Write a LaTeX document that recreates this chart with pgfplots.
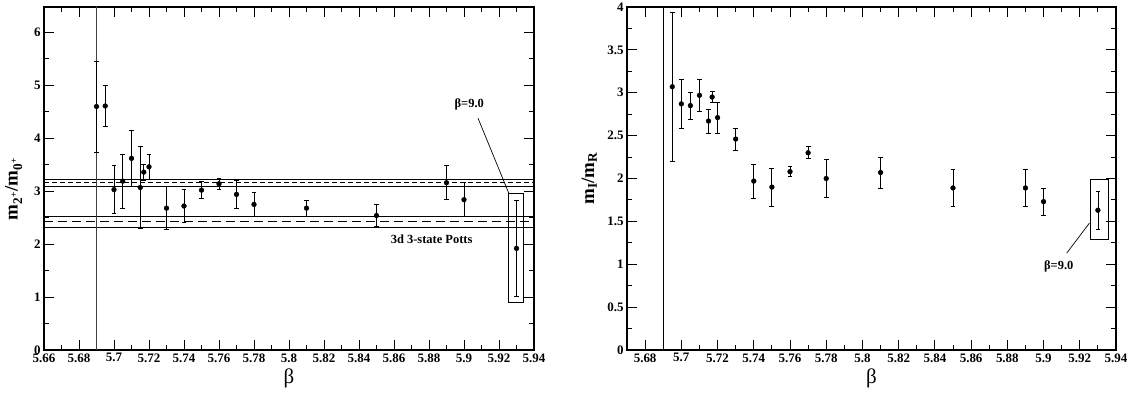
\documentclass[border=0pt]{standalone}
\usepackage{fontspec}
\setmainfont{Liberation Serif}
\usepackage{pgfplots}
\pgfplotsset{compat=1.18}
\usepackage{pgfplotstable}

\pgfplotstableread{
x y e
5.690 4.60 0.86
5.695 4.61 0.38
5.700 3.03 0.45
5.705 3.19 0.51
5.710 3.62 0.52
5.715 3.07 0.77
5.717 3.36 0.15
5.720 3.46 0.24
5.730 2.68 0.41
5.740 2.72 0.31
5.750 3.02 0.16
5.760 3.14 0.10
5.770 2.94 0.27
5.780 2.75 0.23
5.810 2.68 0.15
5.850 2.54 0.21
5.890 3.16 0.32
5.900 2.84 0.32
5.930 1.92 0.90
}\leftdata

\pgfplotstableread{
x y e
5.695 3.07 0.87
5.700 2.87 0.28
5.705 2.85 0.155
5.710 2.97 0.19
5.715 2.67 0.14
5.717 2.95 0.065
5.720 2.71 0.18
5.730 2.46 0.13
5.740 1.97 0.20
5.750 1.90 0.22
5.760 2.08 0.06
5.770 2.30 0.07
5.780 2.00 0.225
5.810 2.07 0.18
5.850 1.89 0.215
5.890 1.89 0.215
5.900 1.73 0.155
5.930 1.63 0.22
}\rightdata

\pgfplotsset{
  gracestyle/.style={
    scale only axis,
    axis line style={line width=1.3bp},
    tick align=inside,
    major tick length=10bp,
    minor tick length=5bp,
    tick style={black, line width=1bp},
    xtick pos=both, ytick pos=both,
    minor x tick num=1,
    minor y tick num=1,
    /pgf/number format/assume math mode=true,
    ticklabel style={font=\fontsize{13}{15}\selectfont\bfseries},
    x tick label style={/pgf/number format/.cd, fixed, precision=2},
    xticklabel={\bfseries\pgfmathprintnumber{\tick}},
    yticklabel={\bfseries\pgfmathprintnumber{\tick}},
    xlabel={\fontsize{21}{23}\selectfont β},
    xlabel style={at={(axis description cs:0.5,-0.082)}, anchor=center},
  },
  pts/.style={black, only marks, mark=*, mark size=2.4bp,
    error bars/.cd, y dir=both, y explicit,
    error bar style={line width=0.8bp, black},
    error mark options={rotate=90, mark size=2.4bp, line width=0.8bp, black}},
}

\begin{document}
\begin{tikzpicture}
\path[use as bounding box] (0,0) rectangle (1136bp,394bp);

\begin{axis}[gracestyle,
  at={(44bp,44bp)}, anchor=south west,
  width=490bp, height=343bp,
  xmin=5.66, xmax=5.94, ymin=0, ymax=6.48,
  xtick={5.66,5.68,...,5.94},
  ytick={0,1,...,6},
  ylabel={\fontsize{19}{22}\selectfont\bfseries m\textsubscript{2\textsuperscript{+}}/m\textsubscript{0\textsuperscript{+}}},
  ylabel style={at={(axis description cs:-0.062,0.47)}, anchor=center, rotate=0},
]
\addplot[black, line width=0.7bp] coordinates {(5.66,3.23) (5.94,3.23)};
\addplot[black, line width=0.7bp] coordinates {(5.66,3.09) (5.94,3.09)};
\addplot[black, line width=0.9bp, dash pattern=on 5bp off 3bp] coordinates {(5.66,3.16) (5.94,3.16)};
\addplot[black, line width=0.9bp] coordinates {(5.66,2.52) (5.94,2.52)};
\addplot[black, line width=0.9bp] coordinates {(5.66,2.32) (5.94,2.32)};
\addplot[black, line width=1.1bp, dash pattern=on 9bp off 5bp] coordinates {(5.66,2.42) (5.94,2.42)};
\addplot[black!75, line width=0.9bp] coordinates {(5.69,-1) (5.69,8)};
\addplot[pts] table[x=x, y=y, y error=e] {\leftdata};
\draw[line width=0.7bp] (axis cs:5.9255,0.9) rectangle (axis cs:5.934,2.95);
\draw[line width=0.7bp] (axis cs:5.9255,2.97) -- (axis cs:5.908,4.38);
\node[font=\fontsize{12.5}{14}\selectfont\bfseries] at (axis cs:5.903,4.63) {β=9.0};
\node[font=\fontsize{12.5}{14}\selectfont\bfseries] at (axis cs:5.8815,2.10) {3d 3-state Potts};
\end{axis}

\begin{axis}[gracestyle,
  at={(627bp,44bp)}, anchor=south west,
  width=489bp, height=343bp,
  xmin=5.67, xmax=5.94, ymin=0, ymax=4,
  xtick={5.68,5.70,...,5.94},
  ytick={0,0.5,...,4},
  ylabel={\fontsize{19}{22}\selectfont\bfseries m\textsubscript{I}/m\textsubscript{R}},
  ylabel style={at={(axis description cs:-0.077,0.5)}, anchor=center, rotate=0},
]
\addplot[black, line width=1.1bp] coordinates {(5.69,-1) (5.69,5)};
\addplot[pts] table[x=x, y=y, y error=e] {\rightdata};
\draw[line width=0.7bp] (axis cs:5.9257,1.29) rectangle (axis cs:5.9358,1.99);
\draw[line width=0.7bp] (axis cs:5.9253,1.48) -- (axis cs:5.9128,1.13);
\node[font=\fontsize{12.5}{14}\selectfont\bfseries] at (axis cs:5.9084,0.97) {β=9.0};
\end{axis}
\end{tikzpicture}
\end{document}
